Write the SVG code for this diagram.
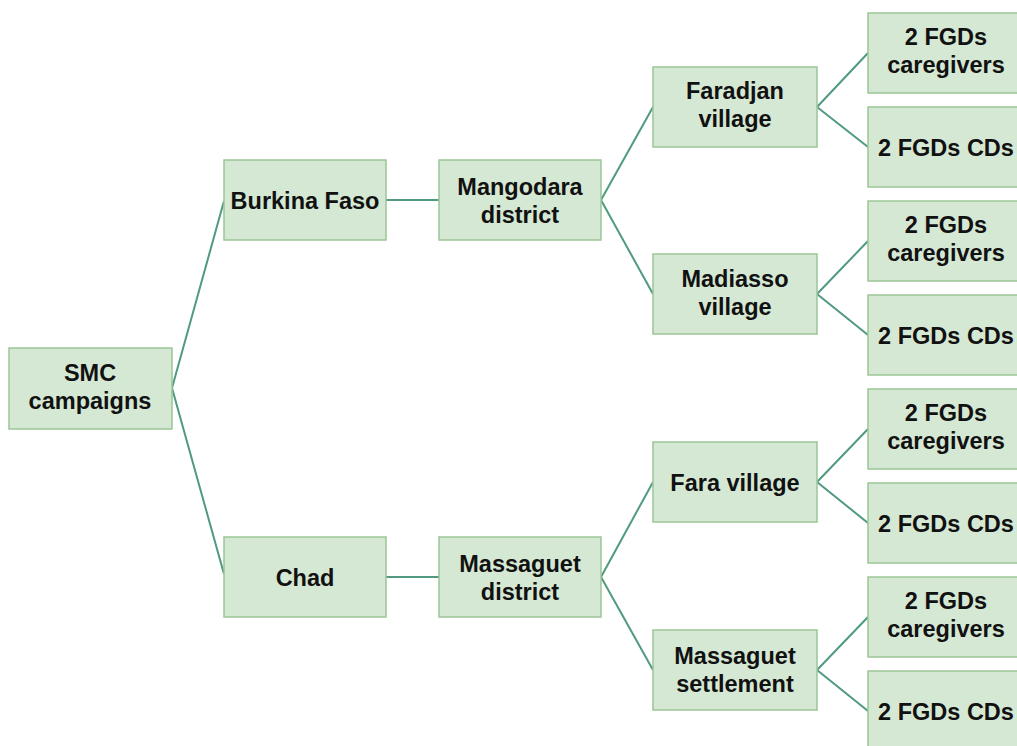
<svg xmlns="http://www.w3.org/2000/svg" width="1017" height="746" viewBox="0 0 1017 746">
<style>
.box{fill:#d5e8d4;stroke:#9cc596;stroke-width:1.5}
.t{font-family:"Liberation Sans",Arial,sans-serif;font-weight:bold;font-size:23.5px;fill:#111111;text-anchor:middle}
.c{fill:none;stroke:#4f9a80;stroke-width:2}
</style>
<rect width="1017" height="746" fill="#ffffff"/>
<g id="connectors">
<path class="c" d="M172,388 L224,201 M172,388 L224,574"/>
<path class="c" d="M386,200 L439,200 M386,577 L439,577"/>
<path class="c" d="M601,200 L653,107 M601,200 L653,294"/>
<path class="c" d="M601,577 L653,482 M601,577 L653,670"/>
<path class="c" d="M817,107 L868,53 M817,107 L868,147"/>
<path class="c" d="M817,294 L868,241 M817,294 L868,335"/>
<path class="c" d="M817,482 L868,429 M817,482 L868,523"/>
<path class="c" d="M817,670 L868,617 M817,670 L868,711"/>
</g>
<g id="smc"><rect class="box" x="9" y="348" width="163" height="81"/><text class="t" x="90" y="381">SMC</text><text class="t" x="90" y="409">campaigns</text></g>
<g id="burkina"><rect class="box" x="224" y="160" width="162" height="80"/><text class="t" x="305" y="209">Burkina Faso</text></g>
<g id="chad"><rect class="box" x="224" y="537" width="162" height="80"/><text class="t" x="305" y="586">Chad</text></g>
<g id="mangodara"><rect class="box" x="439" y="160" width="162" height="80"/><text class="t" x="520" y="195">Mangodara</text><text class="t" x="520" y="223">district</text></g>
<g id="massaguet-district"><rect class="box" x="439" y="537" width="162" height="80"/><text class="t" x="520" y="572">Massaguet</text><text class="t" x="520" y="600">district</text></g>
<g id="faradjan"><rect class="box" x="653" y="67" width="164" height="80"/><text class="t" x="735" y="99">Faradjan</text><text class="t" x="735" y="127">village</text></g>
<g id="madiasso"><rect class="box" x="653" y="254" width="164" height="80"/><text class="t" x="735" y="287">Madiasso</text><text class="t" x="735" y="315">village</text></g>
<g id="fara"><rect class="box" x="653" y="442" width="164" height="80"/><text class="t" x="735" y="491">Fara village</text></g>
<g id="massaguet-settlement"><rect class="box" x="653" y="630" width="164" height="80"/><text class="t" x="735" y="664">Massaguet</text><text class="t" x="735" y="692">settlement</text></g>
<g id="leaf1"><rect class="box" x="868" y="13" width="162" height="80"/><text class="t" x="946" y="45">2 FGDs</text><text class="t" x="946" y="73">caregivers</text></g>
<g id="leaf2"><rect class="box" x="868" y="107" width="162" height="80"/><text class="t" x="946" y="156">2 FGDs CDs</text></g>
<g id="leaf3"><rect class="box" x="868" y="201" width="162" height="80"/><text class="t" x="946" y="233">2 FGDs</text><text class="t" x="946" y="261">caregivers</text></g>
<g id="leaf4"><rect class="box" x="868" y="295" width="162" height="80"/><text class="t" x="946" y="344">2 FGDs CDs</text></g>
<g id="leaf5"><rect class="box" x="868" y="389" width="162" height="80"/><text class="t" x="946" y="421">2 FGDs</text><text class="t" x="946" y="449">caregivers</text></g>
<g id="leaf6"><rect class="box" x="868" y="483" width="162" height="80"/><text class="t" x="946" y="532">2 FGDs CDs</text></g>
<g id="leaf7"><rect class="box" x="868" y="577" width="162" height="80"/><text class="t" x="946" y="609">2 FGDs</text><text class="t" x="946" y="637">caregivers</text></g>
<g id="leaf8"><rect class="box" x="868" y="671" width="162" height="80"/><text class="t" x="946" y="720">2 FGDs CDs</text></g>
</svg>
